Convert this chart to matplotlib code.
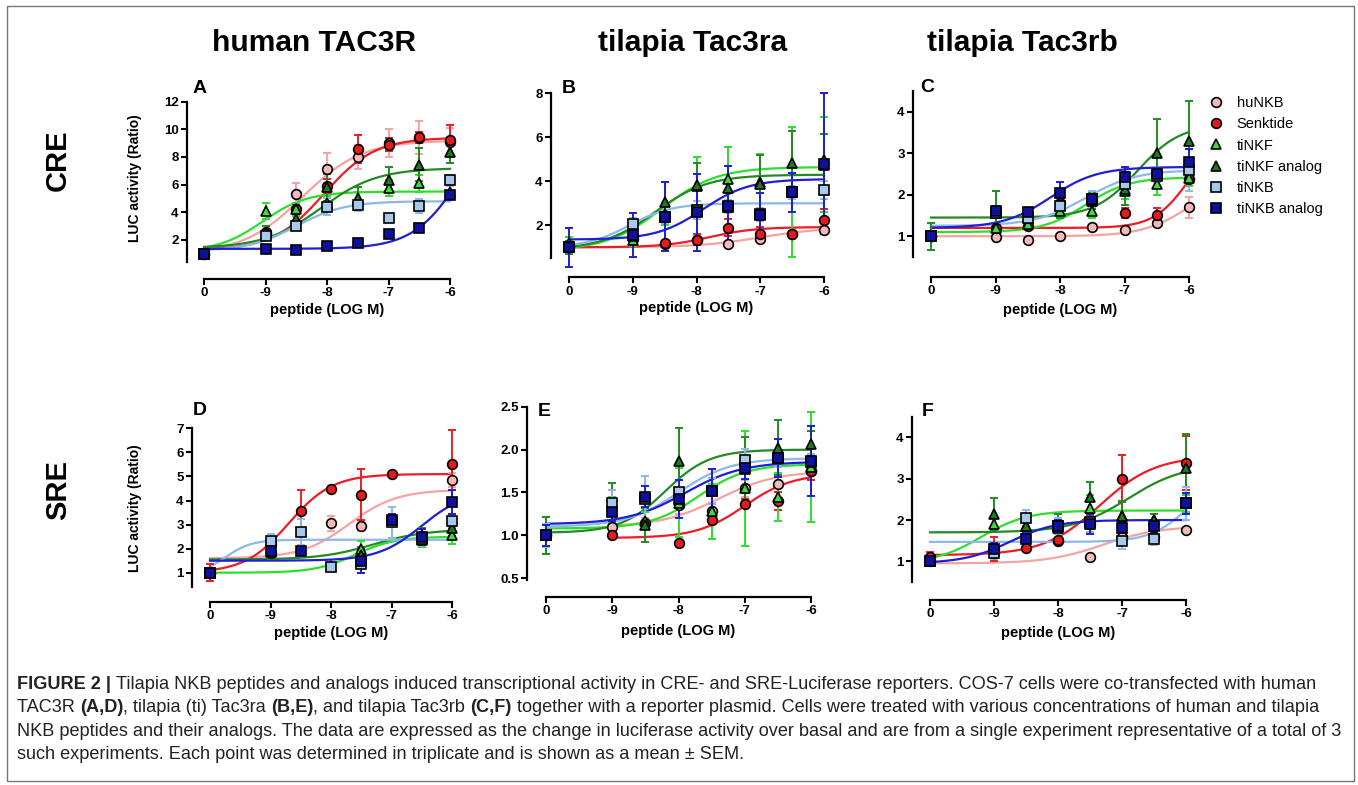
import numpy as np
import matplotlib
matplotlib.use("Agg")
import matplotlib.pyplot as plt
from matplotlib.lines import Line2D
from matplotlib.patches import Rectangle

plt.rcParams['font.family'] = ['Liberation Sans', 'DejaVu Sans']
plt.rcParams['font.weight'] = 'bold'

W, H = 1358, 785

# doses (0 = basal, drawn at the -10 slot)
doses = [-10, -9, -8.5, -8, -7.5, -7, -6.5, -6]
dose_ticks = [-10, -9, -8, -7, -6]
dose_labels = ['0', '-9', '-8', '-7', '-6']

names = ['huNKB', 'Senktide', 'tiNKF', 'tiNKF analog', 'tiNKB', 'tiNKB analog']
line_colors = ['#F4A3A3', '#EE1C25', '#2BE02B', '#238B23', '#8DB8E8', '#1E1ED6']
face_colors = ['#F7B8B8', '#E41A1C', '#3CDC3C', '#1F7A1F', '#A9C9EC', '#10109E']
markers = ['o', 'o', '^', '^', 's', 's']
nan = np.nan

# ---- panel A : human TAC3R, CRE ----
A_mean = [[1.0, 2.6, 5.3, 7.1, 8.0, 9.0, 9.4, 9.1],
          [1.0, 2.4, 4.2, 5.9, 8.6, 8.9, 9.44, 9.2],
          [1.0, 4.1, 4.2, 4.7, 4.9, 5.75, 6.1, 5.5],
          [1.0, 2.5, 3.5, 5.8, 5.0, 6.35, 7.43, 8.33],
          [1.0, 2.3, 3.0, 4.4, 4.5, 3.57, 4.46, 6.3],
          [1.0, 1.35, 1.25, 1.55, 1.8, 2.43, 2.85, 5.26]]
A_err = [[0.1, 0.4, 0.8, 1.2, 0.9, 1.0, 1.2, 1.0],
         [0.1, 0.3, 0.4, 0.5, 1.0, 0.5, 0.4, 1.1],
         [0.1, 0.6, 0.5, 0.5, 0.6, 0.6, 0.6, 0.4],
         [0.1, 0.5, 0.5, 1.0, 0.8, 0.9, 1.2, 0.8],
         [0.1, 0.3, 0.3, 0.6, 0.4, 0.2, 0.5, 0.4],
         [0.05, 0.1, 0.1, 0.1, 0.1, 0.15, 0.1, 0.2]]
# fit: bottom, top, logEC50, hill, first dose of curve
A_fit = [(1.0, 9.2, -8.4, 0.9, -10), (1.25, 9.4, -8.05, 1.05, -10),
         (1.15, 5.5, -9.05, 1.2, -10), (1.4, 7.2, -8.1, 0.95, -10),
         (1.2, 4.8, -8.5, 1.1, -10), (1.35, 12.0, -5.8, 1.1, -10)]

# ---- panel B : tilapia Tac3ra, CRE ----
B_mean = [[1.0, 1.4, 1.15, 1.35, 1.15, 1.4, 1.62, 1.8],
          [1.0, 1.5, 1.2, 1.35, 1.9, 1.62, 1.62, 2.24],
          [1.2, 1.35, 2.5, 3.8, 4.1, 3.95, 3.5, 4.75],
          [1.0, 1.5, 3.05, 3.85, 3.7, 3.9, 4.85, 4.95],
          [1.0, 2.05, 2.4, 2.7, 2.85, 2.5, 3.5, 3.6],
          [1.0, 1.55, 2.4, 2.6, 2.9, 2.45, 3.5, 4.8]]
B_err = [[0.1, 0.15, 0.1, 0.2, 0.1, 0.1, 0.1, 0.2],
         [0.1, 0.2, 0.1, 0.25, 0.4, 0.3, 0.1, 0.5],
         [0.25, 0.3, 0.5, 1.3, 1.45, 1.3, 2.95, 2.15],
         [0.3, 0.3, 0.9, 1.0, 1.0, 1.3, 1.45, 1.2],
         [0.2, 0.3, 0.3, 0.4, 0.3, 0.3, 0.3, 0.4],
         [0.9, 1.0, 1.55, 1.75, 1.8, 1.0, 0.9, 3.2]]
B_fit = [(1.0, 1.9, -7.0, 0.9, -10), (1.0, 1.92, -7.8, 1.2, -10),
         (0.85, 4.65, -8.55, 1.0, -10), (0.9, 4.3, -8.65, 1.05, -10),
         (1.0, 3.0, -9.05, 1.3, -10), (1.35, 4.1, -7.9, 1.2, -10)]

# ---- panel C : tilapia Tac3rb, CRE ----
C_mean = [[1.0, 0.98, 0.9, 1.0, 1.23, 1.15, 1.31, 1.7],
          [1.0, 1.2, 1.25, 1.8, 1.85, 1.57, 1.52, 2.37],
          [1.0, 1.2, 1.3, 1.6, 1.6, 2.1, 2.25, 2.4],
          [1.0, 1.55, 1.45, 1.75, 1.85, 2.15, 3.0, 3.3],
          [1.0, 1.55, 1.45, 1.72, 1.9, 2.25, 2.45, 2.6],
          [1.0, 1.62, 1.58, 2.05, 1.9, 2.42, 2.5, 2.8]]
C_err = [[0.05, 0.05, 0.05, 0.05, 0.05, 0.05, 0.05, 0.25],
         [0.05, 0.05, 0.05, 0.05, 0.05, 0.12, 0.15, 0.15],
         [0.1, 0.05, 0.1, 0.15, 0.15, 0.2, 0.25, 0.2],
         [0.33, 0.55, 0.1, 0.3, 0.2, 0.4, 0.83, 0.95],
         [0.1, 0.1, 0.1, 0.2, 0.2, 0.2, 0.15, 0.5],
         [0.1, 0.1, 0.1, 0.25, 0.1, 0.25, 0.15, 0.3]]
C_fit = [(1.0, 2.4, -6.0, 1.2, -10), (1.2, 3.5, -6.0, 1.6, -10),
         (1.1, 2.42, -7.6, 1.3, -10), (1.45, 3.7, -6.8, 1.3, -10),
         (1.25, 2.6, -7.6, 1.1, -10), (1.2, 2.67, -8.15, 1.2, -10)]

# ---- panel D : human TAC3R, SRE ----
D_mean = [[1.0, 1.8, nan, 3.05, 2.95, nan, nan, 4.85],
          [1.0, 2.2, 3.55, 4.47, 4.25, 5.09, nan, 5.52],
          [1.0, 2.1, nan, 1.3, 2.0, nan, 2.35, 2.55],
          [1.0, 1.85, nan, nan, 1.75, nan, 2.55, 2.84],
          [1.0, 2.3, 2.7, 1.25, 1.35, 3.1, 2.4, 3.15],
          [1.0, 1.9, 1.9, nan, 1.5, 3.19, 2.5, 3.92]]
D_err = [[0.1, 0.2, 0, 0.3, 0.2, 0, 0, 0.3],
         [0.35, 0.3, 0.9, 0.1, 1.05, 0.1, 0, 1.4],
         [0.1, 0.3, 0, 0.1, 0.3, 0, 0.3, 0.35],
         [0.1, 0.3, 0, 0, 0.3, 0, 0.3, 0.3],
         [0.1, 0.3, 0.55, 0.1, 0.35, 0.65, 0.3, 0.3],
         [0.1, 0.15, 0.15, 0, 0.5, 0.25, 0.3, 0.5]]
D_fit = [(1.6, 4.45, -7.7, 1.1, -10), (1.0, 5.1, -8.7, 1.2, -10),
         (1.0, 2.5, -7.6, 1.3, -10), (1.55, 2.8, -7.3, 1.0, -10),
         (0.9, 2.37, -9.75, 2.0, -10), (1.5, 4.4, -6.5, 1.2, -10)]

# ---- panel E : tilapia Tac3ra, SRE ----
E_mean = [[1.0, 1.1, 1.15, 1.35, 1.28, 1.55, 1.6, 1.75],
          [1.0, 1.0, nan, 0.91, 1.18, 1.37, 1.4, 1.75],
          [1.0, 1.3, 1.17, 1.38, 1.28, 1.55, 1.45, 1.8],
          [1.0, 1.33, 1.12, 1.87, 1.52, 1.77, 2.02, 2.07],
          [1.0, 1.38, 1.42, 1.5, 1.52, 1.88, 1.9, 1.85],
          [1.0, 1.27, 1.45, 1.42, 1.52, 1.78, 1.9, 1.87]]
E_err = [[0.05, 0.05, 0.05, 0.1, 0.1, 0.1, 0.1, 0.1],
         [0.05, 0.02, 0, 0.02, 0.05, 0.05, 0.1, 0.1],
         [0.22, 0.15, 0.1, 0.4, 0.32, 0.67, 0.28, 0.64],
         [0.22, 0.28, 0.2, 0.38, 0.15, 0.38, 0.32, 0.15],
         [0.13, 0.15, 0.27, 0.15, 0.15, 0.13, 0.1, 0.1],
         [0.12, 0.1, 0.12, 0.22, 0.25, 0.12, 0.22, 0.41]]
E_fit = [(1.1, 1.75, -7.4, 1.0, -9), (0.97, 1.72, -7.0, 1.2, -9),
         (1.08, 1.83, -7.7, 1.2, -10), (1.03, 2.0, -8.2, 1.3, -10),
         (1.1, 1.9, -8.0, 1.1, -10), (1.13, 1.86, -7.9, 1.0, -10)]

# ---- panel F : tilapia Tac3rb, SRE ----
F_mean = [[1.0, 1.2, nan, 1.5, 1.1, 1.6, 1.6, 1.75],
          [1.1, 1.3, 1.32, 1.52, 1.9, 3.0, nan, 3.38],
          [1.0, 1.9, 1.85, 1.8, 2.3, 2.1, 2.0, 2.4],
          [1.0, 2.15, 1.85, 1.85, 2.55, 2.1, 2.0, 3.25],
          [1.0, 1.2, 2.05, 1.85, 1.95, 1.5, 1.55, 2.4],
          [1.0, 1.3, 1.55, 1.85, 1.9, 1.8, 1.85, 2.4]]
F_err = [[0.05, 0.05, 0, 0.05, 0.05, 0.1, 0.1, 0.05],
         [0.12, 0.3, 0.05, 0.05, 0.2, 0.57, 0, 0.65],
         [0.1, 0.15, 0.15, 0.15, 0.3, 0.35, 0.15, 0.2],
         [0.1, 0.38, 0.2, 0.3, 0.37, 0.37, 0.15, 0.82],
         [0.1, 0.15, 0.2, 0.2, 0.25, 0.2, 0.15, 0.4],
         [0.1, 0.15, 0.15, 0.15, 0.25, 0.15, 0.15, 0.25]]
F_fit = [(0.95, 1.85, -7.3, 1.0, -10), (1.15, 3.55, -7.35, 1.0, -10),
         (0.95, 2.23, -9.2, 1.2, -10), (1.7, 3.35, -6.9, 1.0, -10),
         (1.47, 3.0, -6.0, 1.5, -10), (0.95, 2.0, -8.75, 1.2, -10)]

A_ticks = [2, 4, 6, 8, 10, 12]
B_ticks = [2, 4, 6, 8]
C_ticks = [1, 2, 3, 4]
D_ticks = [1, 2, 3, 4, 5, 6, 7]
E_ticks = [0.5, 1.0, 1.5, 2.0, 2.5]
F_ticks = [1, 2, 3, 4]


def logistic(x, bottom, top, ec50, hill):
    return bottom + (top - bottom) / (1 + 10 ** ((ec50 - x) * hill))


fig = plt.figure(figsize=(W / 100, H / 100), dpi=100)

# panel layout in pixels: x of dose -10, x of dose -6, pixel bottom, pixel top,
# y limits, spine offsets (left, bottom), letter pos, xlabel y
panels = [
    ('A', A_mean, A_err, A_fit, A_ticks, 204, 450, 262, 101.7, (0.4, 12), 17, 17, (193, 93), 310, None),
    ('B', B_mean, B_err, B_fit, B_ticks, 569, 824, 258.3, 93.3, (0.5, 8), 18, 19, (562, 93), 308, None),
    ('C', C_mean, C_err, C_fit, C_ticks, 931, 1189, 257, 91, (0.5, 4.5), 18, 20, (920, 92), 310, None),
    ('D', D_mean, D_err, D_fit, D_ticks, 210, 452, 586.7, 428.3, (0.42, 7), 18, 15, (193, 415), 633, None),
    ('E', E_mean, E_err, E_fit, E_ticks, 546, 811, 580, 406.7, (0.48, 2.5), 19, 17, (538, 416), 631, '%.1f'),
    ('F', F_mean, F_err, F_fit, F_ticks, 930, 1186, 582, 416.7, (0.5, 4.5), 18, 18, (922, 416), 633, None),
]

for (letter, means, errs, fits, yt, x0, x1, pb, pt, ylim, offl, offb,
     lpos, xly, fmt) in panels:
    ax = fig.add_axes([x0 / W, 1 - pb / H, (x1 - x0) / W, (pb - pt) / H])
    ax.set_xlim(-10, -6)
    ax.set_ylim(*ylim)
    ax.patch.set_alpha(0)
    for s in ['top', 'right']:
        ax.spines[s].set_visible(False)
    ax.spines['left'].set_position(('outward', offl * 0.72))
    ax.spines['bottom'].set_position(('outward', offb * 0.72))
    for s in ['left', 'bottom']:
        ax.spines[s].set_linewidth(1.6)
    ax.set_xticks(dose_ticks)
    ax.set_xticklabels(dose_labels)
    ax.set_yticks(yt)
    if fmt:
        ax.set_yticklabels([fmt % v for v in yt])
    ax.tick_params(length=4, width=1.5, labelsize=9.5, pad=2)

    for i in range(len(names)):
        b, t, ec, h, start = fits[i]
        xx = np.linspace(start, -6, 200)
        ax.plot(xx, logistic(xx, b, t, ec, h), color=line_colors[i], lw=1.6,
                zorder=2 + i * 0.01, clip_on=False)
    for i in range(len(names)):
        ax.errorbar(doses, means[i], yerr=errs[i], fmt='none', ecolor=line_colors[i],
                    elinewidth=1.4, capsize=3.2, capthick=1.4, zorder=3, clip_on=False)
    for i in range(len(names)):
        ms = 7 if markers[i] == 'o' else (7.5 if markers[i] == '^' else 6.5)
        ax.plot(doses, means[i], linestyle='none', marker=markers[i], ms=ms,
                mfc=face_colors[i], mec='black', mew=1.2, zorder=4, clip_on=False)

    fig.text(lpos[0] / W, 1 - lpos[1] / H, letter, fontsize=14, ha='left', va='baseline')
    fig.text((x0 + x1) / 2 / W, 1 - xly / H, 'peptide (LOG M)', fontsize=10.5,
             ha='center', va='center')

fig.text(135 / W, 1 - 178 / H, 'LUC activity (Ratio)', rotation=90, fontsize=10,
         ha='center', va='center')
fig.text(135 / W, 1 - 508 / H, 'LUC activity (Ratio)', rotation=90, fontsize=10,
         ha='center', va='center')

# column and row titles
fig.text(314 / W, 1 - 43 / H, 'human TAC3R', fontsize=21.5, ha='center', va='center')
fig.text(693 / W, 1 - 43 / H, 'tilapia Tac3ra', fontsize=21.5, ha='center', va='center')
fig.text(1022 / W, 1 - 43 / H, 'tilapia Tac3rb', fontsize=21.5, ha='center', va='center')
fig.text(58 / W, 1 - 160 / H, 'CRE', fontsize=21, rotation=90, ha='center', va='center')
fig.text(58 / W, 1 - 490 / H, 'SRE', fontsize=21, rotation=90, ha='center', va='center')

# legend
handles = []
for i in range(len(names)):
    ms = 7 if markers[i] == 'o' else (7.5 if markers[i] == '^' else 6.5)
    handles.append(Line2D([], [], linestyle='none', marker=markers[i], ms=ms,
                          mfc=face_colors[i], mec='black', mew=1.2))
fig.legend(handles, names, loc='upper left', bbox_to_anchor=(1209 / W, 1 - 96 / H),
           frameon=False, prop={'weight': 'normal', 'size': 10.5}, handlelength=1.0,
           handletextpad=0.9, labelspacing=0.5, borderpad=0, borderaxespad=0)

# caption
caption = [
    [('FIGURE 2 | ', 'bold'), ('Tilapia NKB peptides and analogs induced transcriptional activity in CRE- and SRE-Luciferase reporters. COS-7 cells were co-transfected with human', 'normal')],
    [('TAC3R ', 'normal'), ('(A,D)', 'bold'), (', tilapia (ti) Tac3ra ', 'normal'), ('(B,E)', 'bold'),
     (', and tilapia Tac3rb ', 'normal'), ('(C,F)', 'bold'),
     (' together with a reporter plasmid. Cells were treated with various concentrations of human and tilapia', 'normal')],
    [('NKB peptides and their analogs. The data are expressed as the change in luciferase activity over basal and are from a single experiment representative of a total of 3', 'normal')],
    [('such experiments. Each point was determined in triplicate and is shown as a mean \u00b1 SEM.', 'normal')],
]
cap_y = [689, 712, 736, 759]
renderer = fig.canvas.get_renderer()
for line, yb in zip(caption, cap_y):
    x = 17
    for txt, wt in line:
        t = fig.text(x / W, 1 - yb / H, txt, fontsize=13.1, weight=wt, ha='left',
                     va='baseline', color='#222222')
        bb = t.get_window_extent(renderer=renderer)
        x += bb.width

fig.add_artist(Rectangle((7 / W, 1 - 781 / H), 1347 / W, 775 / H, transform=fig.transFigure,
                         fill=False, edgecolor='#777777', lw=1.0))

fig.savefig('out.png', dpi=100)
